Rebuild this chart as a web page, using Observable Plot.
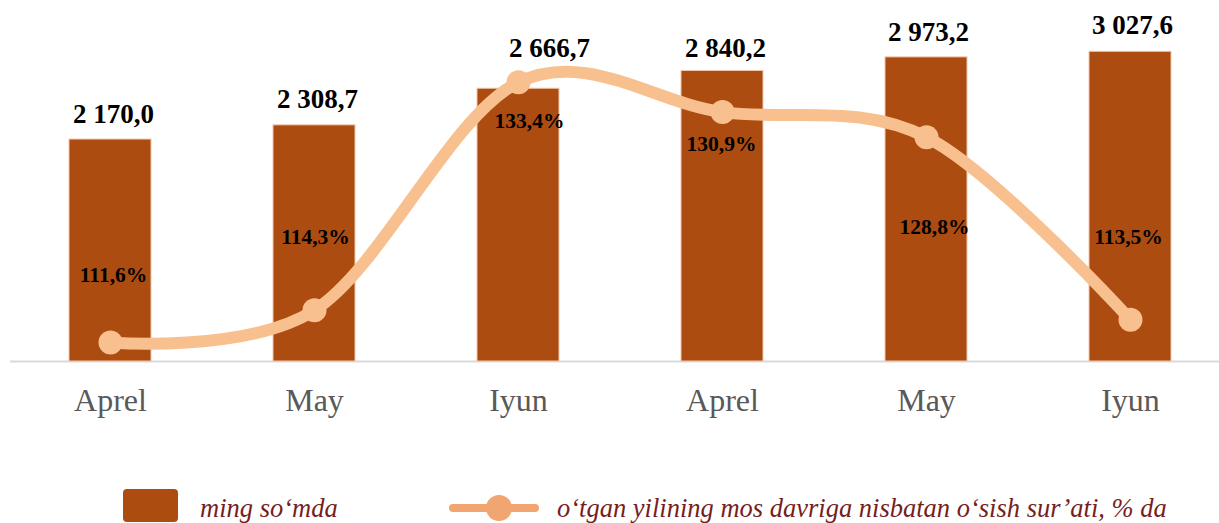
<!DOCTYPE html>
<html><head><meta charset="utf-8">
<script src="https://cdn.jsdelivr.net/npm/d3@7"></script>
<script src="https://cdn.jsdelivr.net/npm/@observablehq/plot@0.6"></script>
<style>
body{margin:0;background:#fff;}
#chart{position:relative;width:1219px;}
.legend{position:relative;width:1219px;height:73px;overflow:hidden;font-family:"Liberation Serif","Times New Roman",serif;font-style:italic;font-size:26.5px;line-height:1;color:#761e1e;}
.legend span{position:absolute;white-space:nowrap;}
</style></head><body><div id="chart"></div>
<script>
const months = ["Aprel", "May", "Iyun", "Aprel", "May", "Iyun"];
const values = [2170.0, 2308.7, 2666.7, 2840.2, 2973.2, 3027.6];
const growth = [111.6, 114.3, 133.4, 130.9, 128.8, 113.5];
const seriesNames = ["ming so‘mda", "o‘tgan yilining mos davriga nisbatan o‘sish sur’ati, % da"];

const ids = months.map((m, i) => i);
const data = ids.map(i => ({id: i, month: months[i], value: values[i], growth: growth[i]}));

// secondary (percent) axis 110..140 shares the primary 0..3500 range
const yMax = 3500, g0 = 110, g1 = 140;
const g2y = g => (g - g0) / (g1 - g0) * yMax;

const loc = d3.formatLocale({decimal: ",", thousands: " ", grouping: [3], currency: ["", ""]});
const fmtVal = loc.format(",.1f");
const fmtPct = v => v.toFixed(1).replace(".", ",") + "%";

const barColor = "#AD4C11";
const lineColor = "#F9C08F";
const serif = "Liberation Serif, Times New Roman, serif";

// manual placement of the data labels (as in the original)
const valDx = [3, 3, 31, 3, 2, 2];
const valDy = [-25, -26, -40, -23, -25, -26];
const labelDx = [3, 1, 11, -1, 8, -2];
const labelDy = [-67, -73, 39, 32, 90, -83];

const plot = Plot.plot({
  width: 1219, height: 450,
  marginLeft: 10, marginRight: 0, marginTop: 0, marginBottom: 89,
  style: {fontFamily: serif, background: "#fff", overflow: "visible"},
  x: {type: "band", domain: ids, range: [8, 1232], paddingInner: 0.6, paddingOuter: 0.3, align: 0.5, label: null},
  y: {domain: [0, yMax], range: [361, 3], axis: null},
  marks: [
    Plot.ruleY([0], {stroke: "#d9d9d9", strokeWidth: 2}),
    Plot.barY(data, {x: "id", y: "value", fill: barColor, stroke: "#F0C6AC", strokeWidth: 1}),
    Plot.axisX({tickSize: 0, tickPadding: 27, tickFormat: i => months[i], fontSize: 32, fill: "#595959", fontFamily: serif, label: null}),
    Plot.line(data, {x: "id", y: d => g2y(d.growth), stroke: lineColor, strokeWidth: 12, curve: "cardinal", tension: 0, strokeLinecap: "round"}),
    Plot.dot(data, {x: "id", y: d => g2y(d.growth), r: 12, fill: lineColor}),
    ...data.map((d, i) => Plot.text([d], {x: "id", y: "value", text: dd => fmtVal(dd.value), dx: valDx[i], dy: valDy[i], fontSize: 27, fontWeight: "bold", fill: "#000", fontFamily: serif})),
    ...data.map((d, i) => Plot.text([d], {x: "id", y: dd => g2y(dd.growth), text: dd => fmtPct(dd.growth), dx: labelDx[i], dy: labelDy[i], fontSize: 21.5, fontWeight: "bold", fill: "#000", fontFamily: serif}))
  ]
});
document.getElementById("chart").appendChild(plot);

const legend = document.createElement("div");
legend.className = "legend";
legend.innerHTML = `
  <div style="position:absolute;left:123px;top:39px;width:55px;height:33px;background:${barColor};border-radius:4px"></div>
  <span style="left:200px;top:45px">${seriesNames[0]}</span>
  <svg style="position:absolute;left:448px;top:40px" width="92" height="33">
    <line x1="5" y1="18" x2="87" y2="18" stroke="#F1A571" stroke-width="8" stroke-linecap="round"/>
    <circle cx="51" cy="18" r="13" fill="#F1A571"/>
  </svg>
  <span style="left:557px;top:45px">${seriesNames[1]}</span>`;
document.getElementById("chart").appendChild(legend);
</script></body></html>
